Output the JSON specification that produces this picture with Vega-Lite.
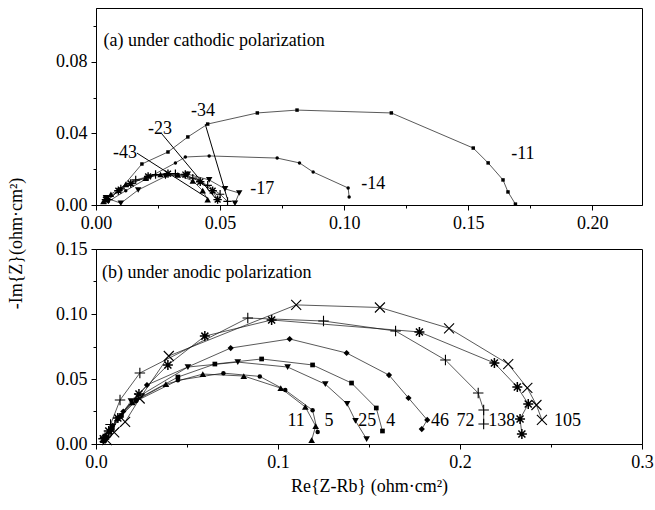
{
  "$schema": "https://vega.github.io/schema/vega-lite/v6.json",
  "padding": {"left": 6, "top": 7, "right": 5, "bottom": 5},
  "background": "white",
  "config": {
    "font": "Liberation Serif, Times New Roman, serif",
    "view": {"stroke": "black", "strokeWidth": 1},
    "point": {"color": "black", "opacity": 1},
    "text": {"fontSize": 18, "baseline": "middle", "color": "black"},
    "axis": {
      "domainColor": "black", "tickColor": "black", "labelColor": "black", "titleColor": "black",
      "labelFont": "Liberation Serif, Times New Roman, serif", "titleFont": "Liberation Serif, Times New Roman, serif",
      "labelFontSize": 18, "titleFontSize": 18, "titleFontWeight": "normal",
      "grid": false, "tickSize": 5, "labelPadding": 4, "labelFlush": false, "labelOverlap": false
    }
  },
  "bounds": "flush",
  "spacing": 44,
  "datasets": {
    "top": [
      {"s": "-11", "i": 1, "x": 0.005, "y": 0.003},
      {"s": "-11", "i": 2, "x": 0.010, "y": 0.009},
      {"s": "-11", "i": 3, "x": 0.0185, "y": 0.0229},
      {"s": "-11", "i": 4, "x": 0.029, "y": 0.0296},
      {"s": "-11", "i": 5, "x": 0.037, "y": 0.038},
      {"s": "-11", "i": 6, "x": 0.045, "y": 0.0452},
      {"s": "-11", "i": 7, "x": 0.065, "y": 0.0514},
      {"s": "-11", "i": 8, "x": 0.081, "y": 0.053},
      {"s": "-11", "i": 9, "x": 0.119, "y": 0.0514},
      {"s": "-11", "i": 10, "x": 0.152, "y": 0.0318},
      {"s": "-11", "i": 11, "x": 0.158, "y": 0.0235},
      {"s": "-11", "i": 12, "x": 0.164, "y": 0.014},
      {"s": "-11", "i": 13, "x": 0.166, "y": 0.0073},
      {"s": "-11", "i": 14, "x": 0.169, "y": 0.0005},
      {"s": "-14", "i": 1, "x": 0.005, "y": 0.002},
      {"s": "-14", "i": 2, "x": 0.012, "y": 0.008},
      {"s": "-14", "i": 3, "x": 0.022, "y": 0.016},
      {"s": "-14", "i": 4, "x": 0.032, "y": 0.0235},
      {"s": "-14", "i": 5, "x": 0.036, "y": 0.0268},
      {"s": "-14", "i": 6, "x": 0.0456, "y": 0.0274},
      {"s": "-14", "i": 7, "x": 0.073, "y": 0.0262},
      {"s": "-14", "i": 8, "x": 0.082, "y": 0.0235},
      {"s": "-14", "i": 9, "x": 0.0875, "y": 0.0184},
      {"s": "-14", "i": 10, "x": 0.1016, "y": 0.0095},
      {"s": "-14", "i": 11, "x": 0.102, "y": 0.0045},
      {"s": "-43", "i": 1, "x": 0.003, "y": 0.002},
      {"s": "-43", "i": 2, "x": 0.006, "y": 0.006},
      {"s": "-43", "i": 3, "x": 0.012, "y": 0.0115},
      {"s": "-43", "i": 4, "x": 0.020, "y": 0.015},
      {"s": "-43", "i": 5, "x": 0.026, "y": 0.017},
      {"s": "-43", "i": 6, "x": 0.033, "y": 0.0168},
      {"s": "-43", "i": 7, "x": 0.039, "y": 0.0135},
      {"s": "-43", "i": 8, "x": 0.043, "y": 0.008},
      {"s": "-43", "i": 9, "x": 0.045, "y": 0.003},
      {"s": "-23", "i": 1, "x": 0.004, "y": 0.003},
      {"s": "-23", "i": 2, "x": 0.009, "y": 0.008},
      {"s": "-23", "i": 3, "x": 0.014, "y": 0.012},
      {"s": "-23", "i": 4, "x": 0.021, "y": 0.016},
      {"s": "-23", "i": 5, "x": 0.029, "y": 0.0175},
      {"s": "-23", "i": 6, "x": 0.036, "y": 0.017},
      {"s": "-23", "i": 7, "x": 0.042, "y": 0.013},
      {"s": "-23", "i": 8, "x": 0.047, "y": 0.008},
      {"s": "-23", "i": 9, "x": 0.049, "y": 0.003},
      {"s": "-34", "i": 1, "x": 0.005, "y": 0.003},
      {"s": "-34", "i": 2, "x": 0.010, "y": 0.009},
      {"s": "-34", "i": 3, "x": 0.016, "y": 0.014},
      {"s": "-34", "i": 4, "x": 0.024, "y": 0.017},
      {"s": "-34", "i": 5, "x": 0.032, "y": 0.0175},
      {"s": "-34", "i": 6, "x": 0.039, "y": 0.015},
      {"s": "-34", "i": 7, "x": 0.045, "y": 0.011},
      {"s": "-34", "i": 8, "x": 0.050, "y": 0.006},
      {"s": "-34", "i": 9, "x": 0.053, "y": 0.002},
      {"s": "-17", "i": 1, "x": 0.004, "y": 0.004},
      {"s": "-17", "i": 2, "x": 0.010, "y": 0.001},
      {"s": "-17", "i": 3, "x": 0.017, "y": 0.0084},
      {"s": "-17", "i": 4, "x": 0.028, "y": 0.016},
      {"s": "-17", "i": 5, "x": 0.037, "y": 0.0172},
      {"s": "-17", "i": 6, "x": 0.0456, "y": 0.014},
      {"s": "-17", "i": 7, "x": 0.052, "y": 0.009},
      {"s": "-17", "i": 8, "x": 0.0577, "y": 0.0067},
      {"s": "-17", "i": 9, "x": 0.056, "y": 0.001}
    ],
    "topLeaders": [
      {"x": 0.044, "y": 0.0452, "x2": 0.0528, "y2": 0.004},
      {"x": 0.0266, "y": 0.0396, "x2": 0.048, "y2": 0.004},
      {"x": 0.0165, "y": 0.029, "x2": 0.0448, "y2": 0.004}
    ],
    "topLabels": [
      {"t": "-11", "x": 0.172, "y": 0.0285},
      {"t": "-14", "x": 0.1117, "y": 0.0117},
      {"t": "-17", "x": 0.067, "y": 0.0089},
      {"t": "-34", "x": 0.0431, "y": 0.0525},
      {"t": "-23", "x": 0.0258, "y": 0.0424},
      {"t": "-43", "x": 0.0117, "y": 0.029}
    ],
    "topTitle": [{"t": "(a) under cathodic polarization", "x": 0.003, "y": 0.0915}],
    "bottom": [
      {"s": "11", "i": 1, "x": 0.004, "y": 0.003},
      {"s": "11", "i": 2, "x": 0.007, "y": 0.010},
      {"s": "11", "i": 3, "x": 0.012, "y": 0.020},
      {"s": "11", "i": 4, "x": 0.020, "y": 0.032},
      {"s": "11", "i": 5, "x": 0.0384, "y": 0.046},
      {"s": "11", "i": 6, "x": 0.0587, "y": 0.0538},
      {"s": "11", "i": 7, "x": 0.0812, "y": 0.0523},
      {"s": "11", "i": 8, "x": 0.1015, "y": 0.043},
      {"s": "11", "i": 9, "x": 0.115, "y": 0.0285},
      {"s": "11", "i": 10, "x": 0.1207, "y": 0.0138},
      {"s": "11", "i": 11, "x": 0.1185, "y": 0.003},
      {"s": "5", "i": 1, "x": 0.005, "y": 0.004},
      {"s": "5", "i": 2, "x": 0.008, "y": 0.011},
      {"s": "5", "i": 3, "x": 0.013, "y": 0.021},
      {"s": "5", "i": 4, "x": 0.022, "y": 0.033},
      {"s": "5", "i": 5, "x": 0.045, "y": 0.049},
      {"s": "5", "i": 6, "x": 0.070, "y": 0.0545},
      {"s": "5", "i": 7, "x": 0.090, "y": 0.052},
      {"s": "5", "i": 8, "x": 0.104, "y": 0.0415},
      {"s": "5", "i": 9, "x": 0.119, "y": 0.026},
      {"s": "5", "i": 10, "x": 0.1218, "y": 0.0092},
      {"s": "25", "i": 1, "x": 0.005, "y": 0.002},
      {"s": "25", "i": 2, "x": 0.008, "y": 0.009},
      {"s": "25", "i": 3, "x": 0.012, "y": 0.019},
      {"s": "25", "i": 4, "x": 0.0192, "y": 0.033},
      {"s": "25", "i": 5, "x": 0.0505, "y": 0.0592},
      {"s": "25", "i": 6, "x": 0.0779, "y": 0.063},
      {"s": "25", "i": 7, "x": 0.1053, "y": 0.0592},
      {"s": "25", "i": 8, "x": 0.126, "y": 0.046},
      {"s": "25", "i": 9, "x": 0.138, "y": 0.0308},
      {"s": "25", "i": 10, "x": 0.1426, "y": 0.0177},
      {"s": "25", "i": 11, "x": 0.1487, "y": 0.0038},
      {"s": "4", "i": 1, "x": 0.006, "y": 0.005},
      {"s": "4", "i": 2, "x": 0.009, "y": 0.012},
      {"s": "4", "i": 3, "x": 0.014, "y": 0.022},
      {"s": "4", "i": 4, "x": 0.022, "y": 0.034},
      {"s": "4", "i": 5, "x": 0.045, "y": 0.0515},
      {"s": "4", "i": 6, "x": 0.0653, "y": 0.0615},
      {"s": "4", "i": 7, "x": 0.091, "y": 0.0654},
      {"s": "4", "i": 8, "x": 0.119, "y": 0.0608},
      {"s": "4", "i": 9, "x": 0.1404, "y": 0.0469},
      {"s": "4", "i": 10, "x": 0.154, "y": 0.0277},
      {"s": "4", "i": 11, "x": 0.1574, "y": 0.010},
      {"s": "46", "i": 1, "x": 0.005, "y": 0.006},
      {"s": "46", "i": 2, "x": 0.009, "y": 0.014},
      {"s": "46", "i": 3, "x": 0.015, "y": 0.025},
      {"s": "46", "i": 4, "x": 0.028, "y": 0.0454},
      {"s": "46", "i": 5, "x": 0.074, "y": 0.0738},
      {"s": "46", "i": 6, "x": 0.1064, "y": 0.0808},
      {"s": "46", "i": 7, "x": 0.1377, "y": 0.070},
      {"s": "46", "i": 8, "x": 0.161, "y": 0.053},
      {"s": "46", "i": 9, "x": 0.1717, "y": 0.0354},
      {"s": "46", "i": 10, "x": 0.182, "y": 0.0185},
      {"s": "46", "i": 11, "x": 0.179, "y": 0.0115},
      {"s": "72", "i": 1, "x": 0.005, "y": 0.005},
      {"s": "72", "i": 2, "x": 0.008, "y": 0.015},
      {"s": "72", "i": 3, "x": 0.0132, "y": 0.0338},
      {"s": "72", "i": 4, "x": 0.0241, "y": 0.0546},
      {"s": "72", "i": 5, "x": 0.0834, "y": 0.0969},
      {"s": "72", "i": 6, "x": 0.125, "y": 0.0946},
      {"s": "72", "i": 7, "x": 0.1646, "y": 0.0869},
      {"s": "72", "i": 8, "x": 0.192, "y": 0.0646},
      {"s": "72", "i": 9, "x": 0.210, "y": 0.0392},
      {"s": "72", "i": 10, "x": 0.213, "y": 0.0262},
      {"s": "72", "i": 11, "x": 0.213, "y": 0.0154},
      {"s": "138", "i": 1, "x": 0.004, "y": 0.004},
      {"s": "138", "i": 2, "x": 0.007, "y": 0.010},
      {"s": "138", "i": 3, "x": 0.012, "y": 0.020},
      {"s": "138", "i": 4, "x": 0.0236, "y": 0.0385},
      {"s": "138", "i": 5, "x": 0.0395, "y": 0.0608},
      {"s": "138", "i": 6, "x": 0.0598, "y": 0.083},
      {"s": "138", "i": 7, "x": 0.0965, "y": 0.0954},
      {"s": "138", "i": 8, "x": 0.1777, "y": 0.0862},
      {"s": "138", "i": 9, "x": 0.2189, "y": 0.0623},
      {"s": "138", "i": 10, "x": 0.2315, "y": 0.0438},
      {"s": "138", "i": 11, "x": 0.2375, "y": 0.0308},
      {"s": "138", "i": 12, "x": 0.233, "y": 0.0192},
      {"s": "138", "i": 13, "x": 0.234, "y": 0.0077},
      {"s": "105", "i": 1, "x": 0.006, "y": 0.003},
      {"s": "105", "i": 2, "x": 0.010, "y": 0.009},
      {"s": "105", "i": 3, "x": 0.016, "y": 0.017},
      {"s": "105", "i": 4, "x": 0.024, "y": 0.035},
      {"s": "105", "i": 5, "x": 0.040, "y": 0.0677},
      {"s": "105", "i": 6, "x": 0.110, "y": 0.107},
      {"s": "105", "i": 7, "x": 0.156, "y": 0.105},
      {"s": "105", "i": 8, "x": 0.194, "y": 0.089},
      {"s": "105", "i": 9, "x": 0.2265, "y": 0.0615},
      {"s": "105", "i": 10, "x": 0.237, "y": 0.0431},
      {"s": "105", "i": 11, "x": 0.242, "y": 0.030},
      {"s": "105", "i": 12, "x": 0.245, "y": 0.0185}
    ],
    "bottomLabels": [
      {"t": "11", "x": 0.110, "y": 0.0177},
      {"t": "5", "x": 0.128, "y": 0.0177},
      {"t": "25", "x": 0.149, "y": 0.0177},
      {"t": "4", "x": 0.162, "y": 0.0177},
      {"t": "46", "x": 0.189, "y": 0.0177},
      {"t": "72", "x": 0.203, "y": 0.0177},
      {"t": "138", "x": 0.223, "y": 0.0177},
      {"t": "105", "x": 0.259, "y": 0.0177}
    ],
    "bottomTitle": [{"t": "(b) under anodic polarization", "x": 0.0033, "y": 0.1315}]
  },
  "vconcat": [
    {
      "width": 546,
      "height": 197,
      "encoding": {
        "x": {"field": "x", "type": "quantitative",
          "scale": {"domain": [0, 0.22], "nice": false, "zero": false},
          "axis": {"title": null, "format": ".2f",
            "values": [0, 0.025, 0.05, 0.075, 0.1, 0.125, 0.15, 0.175, 0.2],
            "labelExpr": "indexof([0, 0.05, 0.1, 0.15, 0.2], datum.value) >= 0 ? datum.label : ''",
            "tickSize": {"condition": {"test": "indexof([0, 0.05, 0.1, 0.15, 0.2], datum.value) >= 0", "value": 5}, "value": 3}}},
        "y": {"field": "y", "type": "quantitative",
          "scale": {"domain": [0, 0.11], "nice": false, "zero": false},
          "axis": {"title": null, "format": ".2f",
            "values": [0, 0.02, 0.04, 0.06, 0.08, 0.1],
            "labelExpr": "indexof([0, 0.04, 0.08], datum.value) >= 0 ? datum.label : ''",
            "tickSize": {"condition": {"test": "indexof([0, 0.04, 0.08], datum.value) >= 0", "value": 5}, "value": 3}}}
      },
      "layer": [
        {"data": {"name": "top"}, "mark": {"type": "line", "color": "#111", "strokeWidth": 0.7},
          "encoding": {"detail": {"field": "s"}, "order": {"field": "i", "type": "quantitative"}}},
        {"data": {"name": "top"}, "transform": [{"filter": "datum.s === '-11'"}],
          "mark": {"type": "point", "shape": "square", "filled": true, "size": 12}},
        {"data": {"name": "top"}, "transform": [{"filter": "datum.s === '-14'"}],
          "mark": {"type": "point", "shape": "circle", "filled": true, "size": 12}},
        {"data": {"name": "top"}, "transform": [{"filter": "datum.s === '-43'"}],
          "mark": {"type": "point", "shape": "triangle-up", "filled": true, "size": 42}},
        {"data": {"name": "top"}, "transform": [{"filter": "datum.s === '-17'"}],
          "mark": {"type": "point", "shape": "triangle-down", "filled": true, "size": 42}},
        {"data": {"name": "top"}, "transform": [{"filter": "datum.s === '-23'"}],
          "mark": {"type": "point", "shape": "M-1,0L1,0M0,-1L0,1M-0.7,-0.7L0.7,0.7M-0.7,0.7L0.7,-0.7", "filled": false, "strokeWidth": 1.4, "size": 70}},
        {"data": {"name": "top"}, "transform": [{"filter": "datum.s === '-34'"}],
          "mark": {"type": "point", "shape": "M-1,0L1,0M0,-1L0,1", "filled": false, "strokeWidth": 1.2, "size": 70}},
        {"data": {"name": "topLeaders"}, "mark": {"type": "rule", "color": "black", "strokeWidth": 1},
          "encoding": {"x2": {"field": "x2"}, "y2": {"field": "y2"}}},
        {"data": {"name": "topLabels"}, "mark": {"type": "text", "align": "center"},
          "encoding": {"text": {"field": "t"}}},
        {"data": {"name": "topTitle"}, "mark": {"type": "text", "align": "left"},
          "encoding": {"text": {"field": "t"}}}
      ]
    },
    {
      "width": 546,
      "height": 195,
      "encoding": {
        "x": {"field": "x", "type": "quantitative",
          "scale": {"domain": [0, 0.3], "nice": false, "zero": false},
          "axis": {"title": "Re{Z-Rb} (ohm·cm²)", "titlePadding": 6, "format": ".1f",
            "values": [0, 0.05, 0.1, 0.15, 0.2, 0.25, 0.3],
            "labelExpr": "indexof([0, 0.1, 0.2, 0.3], datum.value) >= 0 ? datum.label : ''",
            "tickSize": {"condition": {"test": "indexof([0, 0.1, 0.2, 0.3], datum.value) >= 0", "value": 5}, "value": 3}}},
        "y": {"field": "y", "type": "quantitative",
          "scale": {"domain": [0, 0.15], "nice": false, "zero": false},
          "axis": {"title": "-Im{Z}(ohm·cm²)", "titleX": -80, "titleY": -6, "titleBaseline": "middle", "titleAlign": "center", "format": ".2f",
            "values": [0, 0.025, 0.05, 0.075, 0.1, 0.125, 0.15],
            "labelExpr": "indexof([0, 0.05, 0.1, 0.15], datum.value) >= 0 ? datum.label : ''",
            "tickSize": {"condition": {"test": "indexof([0, 0.05, 0.1, 0.15], datum.value) >= 0", "value": 5}, "value": 3}}}
      },
      "layer": [
        {"data": {"name": "bottom"}, "mark": {"type": "line", "color": "#111", "strokeWidth": 0.7},
          "encoding": {"detail": {"field": "s"}, "order": {"field": "i", "type": "quantitative"}}},
        {"data": {"name": "bottom"}, "transform": [{"filter": "datum.s === '11'"}],
          "mark": {"type": "point", "shape": "triangle-up", "filled": true, "size": 44}},
        {"data": {"name": "bottom"}, "transform": [{"filter": "datum.s === '5'"}],
          "mark": {"type": "point", "shape": "circle", "filled": true, "size": 20}},
        {"data": {"name": "bottom"}, "transform": [{"filter": "datum.s === '25'"}],
          "mark": {"type": "point", "shape": "triangle-down", "filled": true, "size": 44}},
        {"data": {"name": "bottom"}, "transform": [{"filter": "datum.s === '4'"}],
          "mark": {"type": "point", "shape": "square", "filled": true, "size": 22}},
        {"data": {"name": "bottom"}, "transform": [{"filter": "datum.s === '46'"}],
          "mark": {"type": "point", "shape": "diamond", "filled": true, "size": 38}},
        {"data": {"name": "bottom"}, "transform": [{"filter": "datum.s === '72'"}],
          "mark": {"type": "point", "shape": "M-1,0L1,0M0,-1L0,1", "filled": false, "strokeWidth": 1.1, "size": 110}},
        {"data": {"name": "bottom"}, "transform": [{"filter": "datum.s === '138'"}],
          "mark": {"type": "point", "shape": "M-1,0L1,0M0,-1L0,1M-0.7,-0.7L0.7,0.7M-0.7,0.7L0.7,-0.7", "filled": false, "strokeWidth": 1.5, "size": 100}},
        {"data": {"name": "bottom"}, "transform": [{"filter": "datum.s === '105'"}],
          "mark": {"type": "point", "shape": "M-1,-1L1,1M-1,1L1,-1", "filled": false, "strokeWidth": 1.1, "size": 100}},
        {"data": {"name": "bottomLabels"}, "mark": {"type": "text", "align": "center"},
          "encoding": {"text": {"field": "t"}}},
        {"data": {"name": "bottomTitle"}, "mark": {"type": "text", "align": "left"},
          "encoding": {"text": {"field": "t"}}}
      ]
    }
  ]
}
